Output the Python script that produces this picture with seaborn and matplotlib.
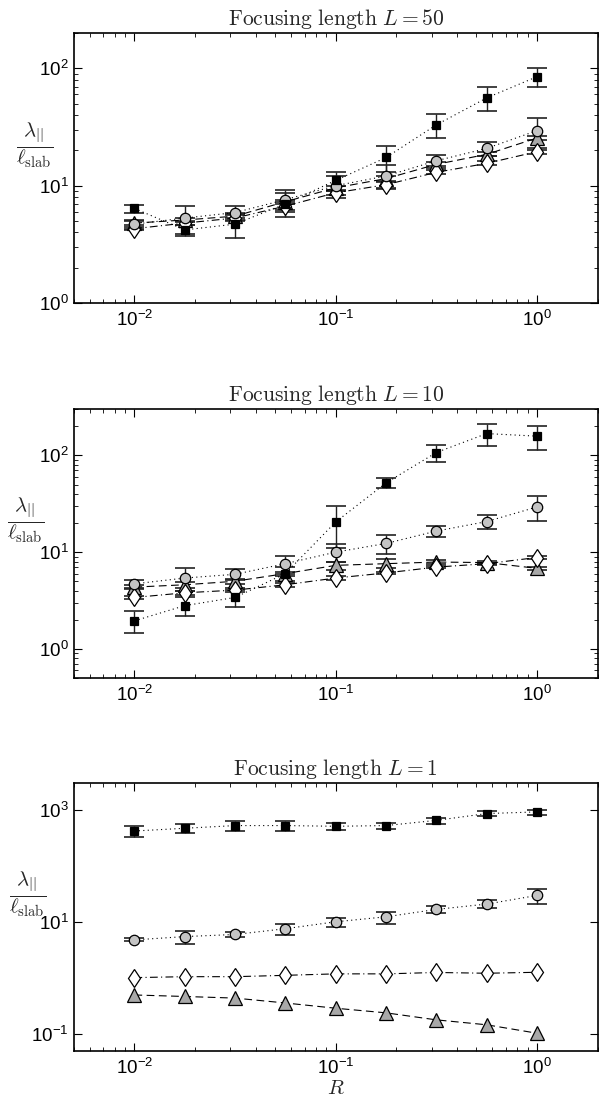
import numpy as np
import matplotlib
matplotlib.use("Agg")
import matplotlib.pyplot as plt
import matplotlib.ticker as mticker
import seaborn as sns

# rigidity values (same for all three panels)
R = [0.01, 0.0178, 0.0316, 0.0562, 0.1, 0.178, 0.316, 0.562, 1.0]

# Focusing length L = 50
sq50 = [6.4, 4.2, 4.7, 7.0, 11.1, 17.4, 33, 56, 85]
sq50_err = [0.5, 0.45, 1.1, 1.6, 2.0, 4.2, 7.5, 13, 15]
ci50 = [4.7, 5.3, 5.9, 7.6, 10.0, 12.1, 16.3, 20.8, 29.5]
ci50_err = [0.4, 1.4, 0.8, 1.6, 2.2, 2.8, 2.1, 2.8, 8.5]
tr50 = [4.8, 5.1, 5.5, 7.3, 9.6, 11.5, 15.2, 18.5, 25.5]
tr50_err = [0.2, 0.2, 0.2, 0.3, 0.4, 0.5, 0.6, 0.7, 1.0]
di50 = [4.3, 4.8, 5.3, 6.7, 8.7, 10.2, 13.0, 15.5, 19.5]
di50_err = [0.15, 0.2, 0.3, 0.5, 0.4, 0.6, 0.5, 0.6, 0.8]

# Focusing length L = 10
sq10 = [1.95, 2.8, 3.4, 6.0, 20.5, 52, 107, 168, 158]
sq10_err = [0.5, 0.6, 0.7, 1.0, 9.5, 6.5, 21, 42, 45]
ci10 = [4.7, 5.4, 5.9, 7.6, 10.0, 12.3, 16.5, 20.7, 29.3]
ci10_err = [0.4, 1.4, 0.8, 1.6, 2.0, 2.8, 2.0, 3.4, 8.5]
tr10 = [4.35, 4.6, 5.0, 6.0, 7.3, 7.6, 7.9, 7.8, 6.8]
tr10_err = [0.2, 0.3, 0.3, 0.3, 0.7, 0.8, 0.3, 0.3, 0.2]
di10 = [3.4, 3.8, 4.05, 4.6, 5.4, 6.1, 7.0, 7.6, 8.8]
di10_err = [0.15, 0.2, 0.2, 0.2, 0.2, 0.2, 0.2, 0.2, 0.3]

# Focusing length L = 1
sq1 = [420, 470, 525, 525, 510, 525, 650, 860, 920]
sq1_err = [95, 90, 100, 100, 75, 70, 80, 90, 95]
ci1 = [4.8, 5.5, 6.0, 7.6, 10.1, 12.4, 16.8, 20.9, 29.8]
ci1_err = [0.3, 1.4, 0.7, 1.7, 1.8, 3.0, 2.2, 3.4, 9.0]
tr1 = [0.50, 0.47, 0.44, 0.36, 0.29, 0.24, 0.18, 0.147, 0.104]
di1 = [1.02, 1.06, 1.06, 1.12, 1.19, 1.19, 1.26, 1.22, 1.27]

titles = [r"$\mathrm{Focusing\ length}\ L=50$",
          r"$\mathrm{Focusing\ length}\ L=10$",
          r"$\mathrm{Focusing\ length}\ L=1$"]

sns.set_style("ticks")
plt.rcParams["font.family"] = ["Liberation Sans", "DejaVu Sans"]
plt.rcParams["mathtext.fontset"] = "cm"

fig = plt.figure(figsize=(6, 11.03), dpi=100)
boxes = [[0.123, 0.7253, 0.873, 0.2447],
         [0.123, 0.3853, 0.873, 0.2437],
         [0.123, 0.0471, 0.873, 0.2429]]
ylims = [(1, 200), (0.5, 300), (0.05, 3000)]
label_x = [-0.075, -0.092, -0.088]

# marker styles: (marker, face colour, size, linestyle)
styles = {
    "sq": ("s", "black", 5.5, (0, (1, 3))),
    "ci": ("o", "#c4c4c4", 7.5, (0, (1, 3))),
    "tr": ("^", "#a8a8a8", 9.5, (0, (7, 4))),
    "di": ("d", "white", 9.5, (0, (7, 3, 1, 3))),
}

panels = [
    [("tr", tr50, tr50_err), ("di", di50, di50_err), ("ci", ci50, ci50_err), ("sq", sq50, sq50_err)],
    [("tr", tr10, tr10_err), ("di", di10, di10_err), ("ci", ci10, ci10_err), ("sq", sq10, sq10_err)],
    [("tr", tr1, None), ("di", di1, None), ("ci", ci1, ci1_err), ("sq", sq1, sq1_err)],
]

for i, box in enumerate(boxes):
    ax = fig.add_axes(box)
    for key, vals, err in panels[i]:
        marker, face, size, ls = styles[key]
        if err is not None:
            ax.errorbar(R, vals, yerr=err, fmt="none", ecolor="#222222",
                        elinewidth=1.0, capsize=7, capthick=1.2, zorder=2)
        sns.lineplot(x=R, y=vals, ax=ax, marker=marker, linestyle=ls,
                     color="black", linewidth=0.8, markersize=size,
                     markerfacecolor=face, markeredgecolor="black",
                     markeredgewidth=0.9, estimator=None, zorder=3)
    ax.set_xscale("log")
    ax.set_yscale("log")
    ax.set_xlim(0.005, 2)
    ax.set_ylim(*ylims[i])

    ax.xaxis.set_major_locator(mticker.LogLocator(base=10, numticks=10))
    ax.xaxis.set_minor_locator(mticker.LogLocator(base=10, subs=np.arange(2, 10), numticks=10))
    if i < 2:
        ax.yaxis.set_major_locator(mticker.FixedLocator([1, 10, 100]))
        ax.yaxis.set_minor_locator(mticker.LogLocator(base=10, subs=np.arange(2, 10), numticks=10))
    else:
        ax.yaxis.set_major_locator(mticker.FixedLocator([0.1, 10, 1000]))
        ax.yaxis.set_minor_locator(mticker.NullLocator())
    ax.yaxis.set_major_formatter(mticker.LogFormatterSciNotation())
    ax.xaxis.set_major_formatter(mticker.LogFormatterSciNotation())

    ax.tick_params(which="both", direction="in", top=True, right=True,
                   colors="black", labelsize=13.5)
    ax.tick_params(which="major", length=6, width=0.8)
    ax.tick_params(which="minor", length=3, width=0.6)
    ax.tick_params(axis="x", pad=5)
    for sp in ax.spines.values():
        sp.set_color("black")
        sp.set_linewidth(1.2)

    ax.set_title(titles[i], fontsize=15.5, pad=6)
    ax.text(label_x[i], 0.585, r"$\dfrac{\lambda_{||}}{\ell_{\mathrm{slab}}}$",
            transform=ax.transAxes, ha="center", va="center", fontsize=15)
    ax.set_xlabel("")
    ax.set_ylabel("")
    if i == 2:
        ax.set_xlabel(r"$R$", fontsize=15, labelpad=1)

fig.savefig("out.png", dpi=100)
